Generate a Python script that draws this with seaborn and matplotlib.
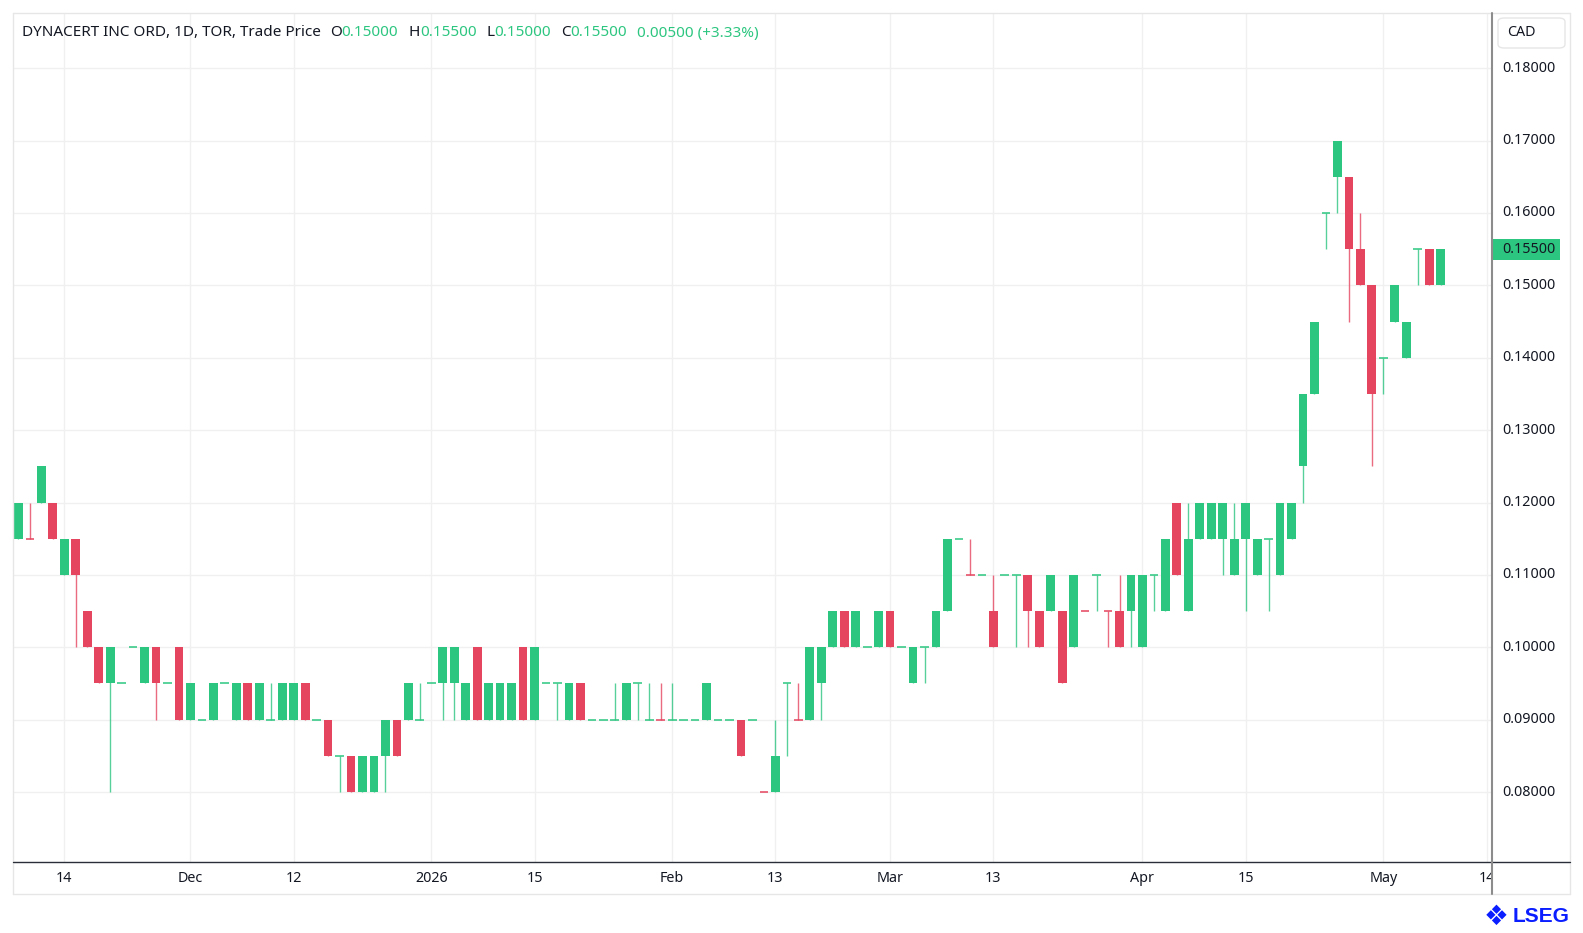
import numpy as np
import pandas as pd
import matplotlib
matplotlib.use("Agg")
import matplotlib.pyplot as plt
import matplotlib.transforms as mtransforms
from matplotlib.patches import Rectangle, FancyBboxPatch
from matplotlib.lines import Line2D
import seaborn as sns

# ---------------- data ----------------
holidays = ["2025-12-25", "2025-12-26", "2026-01-01", "2026-02-16", "2026-04-03"]
dates = [d for d in pd.bdate_range("2025-11-10", "2026-05-08").strftime("%Y-%m-%d") if d not in holidays]

opens = [0.115, 0.115, 0.12, 0.12, 0.11, 0.115, 0.105, 0.10, 0.095, 0.095,
         0.10, 0.095, 0.10, 0.095, 0.10, 0.09, 0.09, 0.09, 0.095, 0.09,
         0.095, 0.09, 0.09, 0.09, 0.09, 0.095, 0.09, 0.09, 0.085, 0.085,
         0.08, 0.08, 0.085, 0.09, 0.09, 0.09, 0.095, 0.095, 0.095, 0.09,
         0.10, 0.09, 0.09, 0.09, 0.10, 0.09, 0.095, 0.095, 0.09, 0.095,
         0.09, 0.09, 0.09, 0.09, 0.095, 0.09, 0.09, 0.09, 0.09, 0.09,
         0.09, 0.09, 0.09, 0.09, 0.09, 0.08, 0.08, 0.095, 0.09, 0.09,
         0.095, 0.10, 0.105, 0.10, 0.10, 0.10, 0.105, 0.10, 0.095, 0.10,
         0.10, 0.105, 0.115, 0.11, 0.11, 0.105, 0.11, 0.11, 0.11, 0.105,
         0.105, 0.105, 0.10, 0.105, 0.11, 0.105, 0.105, 0.105, 0.10, 0.11,
         0.105, 0.12, 0.105, 0.115, 0.115, 0.115, 0.11, 0.115, 0.11, 0.115,
         0.11, 0.115, 0.125, 0.135, 0.16, 0.165, 0.165, 0.155, 0.15, 0.14,
         0.145, 0.14, 0.155, 0.155, 0.15]
highs = [0.12, 0.12, 0.125, 0.12, 0.115, 0.115, 0.105, 0.10, 0.10, 0.095,
         0.10, 0.10, 0.10, 0.095, 0.10, 0.095, 0.09, 0.095, 0.095, 0.095,
         0.095, 0.095, 0.095, 0.095, 0.095, 0.095, 0.09, 0.09, 0.085, 0.085,
         0.085, 0.085, 0.09, 0.09, 0.095, 0.095, 0.095, 0.10, 0.10, 0.095,
         0.10, 0.095, 0.095, 0.095, 0.10, 0.10, 0.095, 0.095, 0.095, 0.095,
         0.09, 0.09, 0.095, 0.095, 0.095, 0.095, 0.095, 0.095, 0.09, 0.09,
         0.095, 0.09, 0.09, 0.09, 0.09, 0.08, 0.09, 0.095, 0.095, 0.10,
         0.10, 0.105, 0.105, 0.105, 0.10, 0.105, 0.105, 0.10, 0.10, 0.10,
         0.105, 0.115, 0.115, 0.115, 0.11, 0.11, 0.11, 0.11, 0.11, 0.105,
         0.11, 0.105, 0.11, 0.105, 0.11, 0.105, 0.11, 0.11, 0.11, 0.11,
         0.115, 0.12, 0.12, 0.12, 0.12, 0.12, 0.12, 0.12, 0.115, 0.115,
         0.12, 0.12, 0.135, 0.145, 0.16, 0.17, 0.165, 0.16, 0.15, 0.14,
         0.15, 0.145, 0.155, 0.155, 0.155]
lows = [0.115, 0.115, 0.12, 0.115, 0.11, 0.10, 0.10, 0.095, 0.08, 0.095,
        0.10, 0.095, 0.09, 0.095, 0.09, 0.09, 0.09, 0.09, 0.095, 0.09,
        0.09, 0.09, 0.09, 0.09, 0.09, 0.09, 0.09, 0.085, 0.08, 0.08,
        0.08, 0.08, 0.08, 0.085, 0.09, 0.09, 0.095, 0.09, 0.09, 0.09,
        0.09, 0.09, 0.09, 0.09, 0.09, 0.09, 0.095, 0.09, 0.09, 0.09,
        0.09, 0.09, 0.09, 0.09, 0.09, 0.09, 0.09, 0.09, 0.09, 0.09,
        0.09, 0.09, 0.09, 0.085, 0.09, 0.08, 0.08, 0.085, 0.09, 0.09,
        0.09, 0.10, 0.10, 0.10, 0.10, 0.10, 0.10, 0.10, 0.095, 0.095,
        0.10, 0.105, 0.115, 0.11, 0.11, 0.10, 0.11, 0.10, 0.10, 0.10,
        0.105, 0.095, 0.10, 0.105, 0.105, 0.10, 0.10, 0.10, 0.10, 0.105,
        0.105, 0.11, 0.105, 0.115, 0.115, 0.11, 0.11, 0.105, 0.11, 0.105,
        0.11, 0.115, 0.12, 0.135, 0.155, 0.16, 0.145, 0.15, 0.125, 0.135,
        0.145, 0.14, 0.15, 0.15, 0.15]
closes = [0.12, 0.115, 0.125, 0.115, 0.115, 0.11, 0.10, 0.095, 0.10, 0.095,
          0.10, 0.10, 0.095, 0.095, 0.09, 0.095, 0.09, 0.095, 0.095, 0.095,
          0.09, 0.095, 0.09, 0.095, 0.095, 0.09, 0.09, 0.085, 0.085, 0.08,
          0.085, 0.085, 0.09, 0.085, 0.095, 0.09, 0.095, 0.10, 0.10, 0.095,
          0.09, 0.095, 0.095, 0.095, 0.09, 0.10, 0.095, 0.095, 0.095, 0.09,
          0.09, 0.09, 0.09, 0.095, 0.095, 0.09, 0.09, 0.09, 0.09, 0.09,
          0.095, 0.09, 0.09, 0.085, 0.09, 0.08, 0.085, 0.095, 0.09, 0.10,
          0.10, 0.105, 0.10, 0.105, 0.10, 0.105, 0.10, 0.10, 0.10, 0.10,
          0.105, 0.115, 0.115, 0.11, 0.11, 0.10, 0.11, 0.11, 0.105, 0.10,
          0.11, 0.095, 0.11, 0.105, 0.11, 0.105, 0.10, 0.11, 0.11, 0.11,
          0.115, 0.11, 0.115, 0.12, 0.12, 0.12, 0.115, 0.12, 0.115, 0.115,
          0.12, 0.12, 0.135, 0.145, 0.16, 0.17, 0.155, 0.15, 0.135, 0.14,
          0.15, 0.145, 0.155, 0.15, 0.155]
red_doji_dates = ["2025-11-11", "2026-01-30", "2026-02-12", "2026-02-18",
                  "2026-03-11", "2026-03-25", "2026-03-27"]

time_tick_dates = ["2025-11-14", "2025-12-01", "2025-12-12", "2026-01-02", "2026-01-15",
                   "2026-02-02", "2026-02-13", "2026-03-02", "2026-03-13", "2026-04-01",
                   "2026-04-15", "2026-05-01"]
time_tick_labels = ["14", "Dec", "12", "2026", "15", "Feb", "13", "Mar", "13", "Apr", "15", "May", "14"]
price_ticks = [0.08, 0.09, 0.10, 0.11, 0.12, 0.13, 0.14, 0.15, 0.16, 0.17, 0.18]

title_name = "DYNACERT INC ORD, 1D, TOR, Trade Price"
ohlc_labels = ["O", "H", "L", "C"]
ohlc_values = ["0.15000", "0.15500", "0.15000", "0.15500"]
change_text = "0.00500 (+3.33%)"
last_price = "0.15500"
currency = "CAD"

# ---------------- style ----------------
sns.set_theme(style="white")
plt.rcParams["font.family"] = ["Noto Sans", "DejaVu Sans"]

GREEN = "#2DC680"
RED = "#E5455F"
GRID = "#F0F0F0"
TEXT = "#131722"

df = pd.DataFrame({"date": dates, "open": opens, "high": highs, "low": lows, "close": closes})
df["idx"] = np.arange(len(df))
df["up"] = np.where(df["close"] > df["open"], True,
                    np.where(df["close"] < df["open"], False, ~df["date"].isin(red_doji_dates)))
df["color"] = np.where(df["up"], GREEN, RED)

W, H = 1583, 933
fig = plt.figure(figsize=(W / 100, H / 100), dpi=100)
fig.patch.set_facecolor("white")

def fx(p):
    return p / W

def fy(p):
    return 1 - p / H

PL, PR, PT, PB = 12.7, 1491.7, 13.0, 862.0
ax = fig.add_axes([fx(PL), fy(PB), fx(PR) - fx(PL), fy(PT) - fy(PB)])
ax.set_xlim(-0.497, 128.45)
ax.set_ylim(0.07034, 0.18763)
ax.set_axis_off()

# grid
tick_idx = [dates.index(d) for d in time_tick_dates] + [len(dates) + 3]
ax.hlines(price_ticks, -1, 130, color=GRID, lw=1.0, zorder=0)
ax.vlines(tick_idx, 0.06, 0.2, color=GRID, lw=1.0, zorder=0)

# candles
bw = 0.76
wick = df[df["high"] > df["low"]]
ax.vlines(wick["idx"], wick["low"], wick["high"], colors=wick["color"], lw=1.0, alpha=0.8, zorder=2)
body = df[df["close"] != df["open"]]
ax.bar(body["idx"], (body["close"] - body["open"]).abs(),
       bottom=np.minimum(body["open"], body["close"]), width=bw,
       color=body["color"], linewidth=0, zorder=3)
doji = df[df["close"] == df["open"]]
ax.hlines(doji["open"], doji["idx"] - bw / 2, doji["idx"] + bw / 2, colors=doji["color"],
          lw=1.3, alpha=0.85, zorder=3)

# price axis labels
tr = mtransforms.blended_transform_factory(ax.transAxes, ax.transData)
xl = (1502 - PL) / (PR - PL)
for p in price_ticks:
    ax.text(xl, p, f"{p:.5f}", transform=tr, ha="left", va="center",
            fontsize=10.3, color=TEXT, clip_on=False)

# last price tag
lp = float(last_price)
tag_h = (ax.get_ylim()[1] - ax.get_ylim()[0]) * 21 / (PB - PT)
x0 = (1493 - PL) / (PR - PL)
x1 = (1560 - PL) / (PR - PL)
ax.add_patch(Rectangle((x0, lp - tag_h / 2), x1 - x0, tag_h, transform=tr,
                       facecolor=GREEN, edgecolor="none", clip_on=False, zorder=5))
ax.text(xl, lp, last_price, transform=tr, ha="left", va="center", fontsize=10.3,
        color=TEXT, clip_on=False, zorder=6)

# time axis band
tax = fig.add_axes([fx(PL), fy(894), fx(PR) - fx(PL), fy(PB) - fy(894)])
tax.set_xlim(ax.get_xlim())
tax.set_ylim(0, 1)
tax.set_axis_off()
for i, lab in zip(tick_idx, time_tick_labels):
    tax.text(i, 0.5, lab, ha="center", va="center", fontsize=10.3, color=TEXT,
             fontweight="bold" if lab == "2026" else "normal", clip_on=True)

# frame lines
border = "#E6E6E6"
fig.add_artist(Line2D([fx(PL), fx(PL)], [fy(PT), fy(894)], color=border, lw=1))
fig.add_artist(Line2D([fx(PL), fx(1570)], [fy(PT), fy(PT)], color=border, lw=1))
fig.add_artist(Line2D([fx(1570), fx(1570)], [fy(PT), fy(894)], color=border, lw=1))
fig.add_artist(Line2D([fx(PL), fx(1570)], [fy(894), fy(894)], color=border, lw=1))
fig.add_artist(Line2D([fx(PL), fx(1570)], [fy(PB), fy(PB)], color="#2A2E39", lw=1.0))
fig.add_artist(Line2D([fx(PR), fx(PR)], [fy(PT), fy(894)], color="#8C8C8C", lw=1.5))

# CAD box
fig.add_artist(FancyBboxPatch((fx(1498), fy(48)), fx(1565) - fx(1498), fy(18) - fy(48),
                              boxstyle="round,pad=0,rounding_size=0.004",
                              transform=fig.transFigure, facecolor="white",
                              edgecolor="#E6E6E6", lw=1))
fig.text(fx(1507), fy(33), currency, ha="left", va="center", fontsize=10.3, color=TEXT)

# header
fig.canvas.draw()
r = fig.canvas.get_renderer()
xpos = 22
ypos = fy(33)
HFS = 11

def put(s, color, x):
    t = fig.text(fx(x), ypos, s, ha="left", va="center", fontsize=HFS, color=color)
    bb = t.get_window_extent(renderer=r)
    return bb.x1

xpos = put(title_name, TEXT, xpos) + 9
for lab, val in zip(ohlc_labels, ohlc_values):
    xpos = put(lab, TEXT, xpos)
    xpos = put(val, GREEN, xpos) + 10
put(change_text, GREEN, xpos)

# LSEG logo
fig.text(fx(1570), fy(917), "LSEG", ha="right", va="center", fontsize=15,
         fontweight="bold", color="#0A1EFF", family=["Liberation Sans", "DejaVu Sans"])
fig.text(fx(1496), fy(917), "\u2756", ha="center", va="center", fontsize=20,
         color="#0A1EFF", family=["DejaVu Sans"])

fig.savefig("out.png", dpi=100, facecolor="white")
